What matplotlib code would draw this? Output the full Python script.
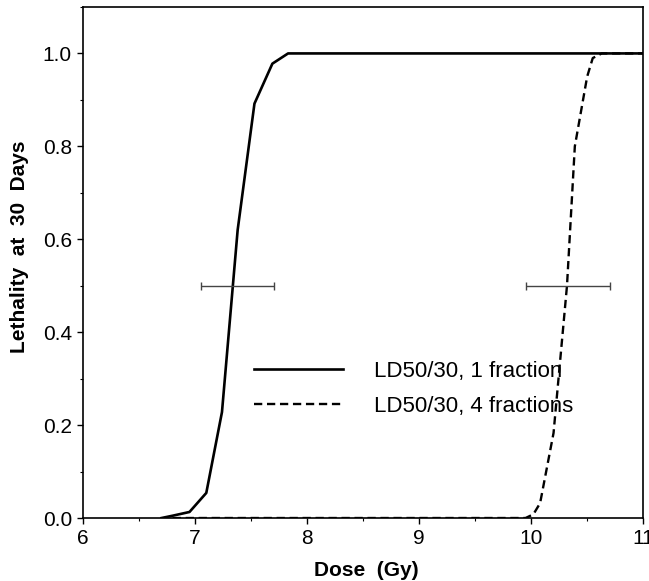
import numpy as np
import matplotlib
matplotlib.use("Agg")
import matplotlib.pyplot as plt
from matplotlib.ticker import MultipleLocator

plt.rcParams['font.family'] = ['Liberation Sans', 'DejaVu Sans']

# LD50/30 curves
dose_1frac = [6.70, 6.80, 6.95, 7.10, 7.24, 7.38, 7.53, 7.69, 7.83, 11.0]
leth_1frac = [0.0, 0.005, 0.013, 0.054, 0.228, 0.62, 0.892, 0.978, 1.0, 1.0]

dose_4frac = [6.80, 9.95, 10.02, 10.08, 10.20, 10.32, 10.39, 10.50, 10.55, 10.63, 11.0]
leth_4frac = [0.0, 0.0, 0.008, 0.032, 0.183, 0.50, 0.80, 0.95, 0.99, 1.0, 1.0]

# LD50 estimates with confidence intervals
ld50_center = [7.37, 10.32]
ld50_low = [7.05, 9.95]
ld50_high = [7.70, 10.70]
ld50_level = [0.5, 0.5]

fig = plt.figure(figsize=(6.49, 5.81), dpi=100)
ax = fig.add_axes([0.128, 0.1084, 0.863, 0.8796])

ax.plot(dose_1frac, leth_1frac, color='black', lw=1.9, label='LD50/30, 1 fraction')
ax.plot(dose_4frac, leth_4frac, color='black', lw=1.7, dashes=(3.5, 2),
        label='LD50/30, 4 fractions')

xerr = [np.array(ld50_center) - np.array(ld50_low),
        np.array(ld50_high) - np.array(ld50_center)]
ax.errorbar(ld50_center, ld50_level, xerr=xerr, fmt='none', ecolor='#444444',
            elinewidth=1.0, capsize=3, capthick=1.0)

ax.set_xlim(6, 11)
ax.set_ylim(0, 1.1)
ax.set_xticks([6, 7, 8, 9, 10, 11])
ax.set_yticks([0.0, 0.2, 0.4, 0.6, 0.8, 1.0])
ax.set_yticklabels(['0.0', '0.2', '0.4', '0.6', '0.8', '1.0'])
ax.xaxis.set_minor_locator(MultipleLocator(0.5))
ax.yaxis.set_minor_locator(MultipleLocator(0.1))
ax.tick_params(which='major', direction='out', length=4, width=1, labelsize=15, pad=4)
ax.tick_params(which='minor', direction='out', length=2, width=0.8)

for s in ax.spines.values():
    s.set_linewidth(1.2)

ax.set_xlabel('Dose  (Gy)', fontsize=15, fontweight='bold')
ax.set_ylabel('Lethality  at  30  Days', fontsize=15, fontweight='bold')
ax.xaxis.set_label_coords(0.505, -0.085)
ax.yaxis.set_label_coords(-0.097, 0.53)

ax.legend(loc='upper left', bbox_to_anchor=(0.29, 0.325), frameon=False,
          fontsize=16, handlelength=4.0, handletextpad=1.4, labelspacing=0.65,
          borderaxespad=0)

fig.savefig('out.png', dpi=100)
